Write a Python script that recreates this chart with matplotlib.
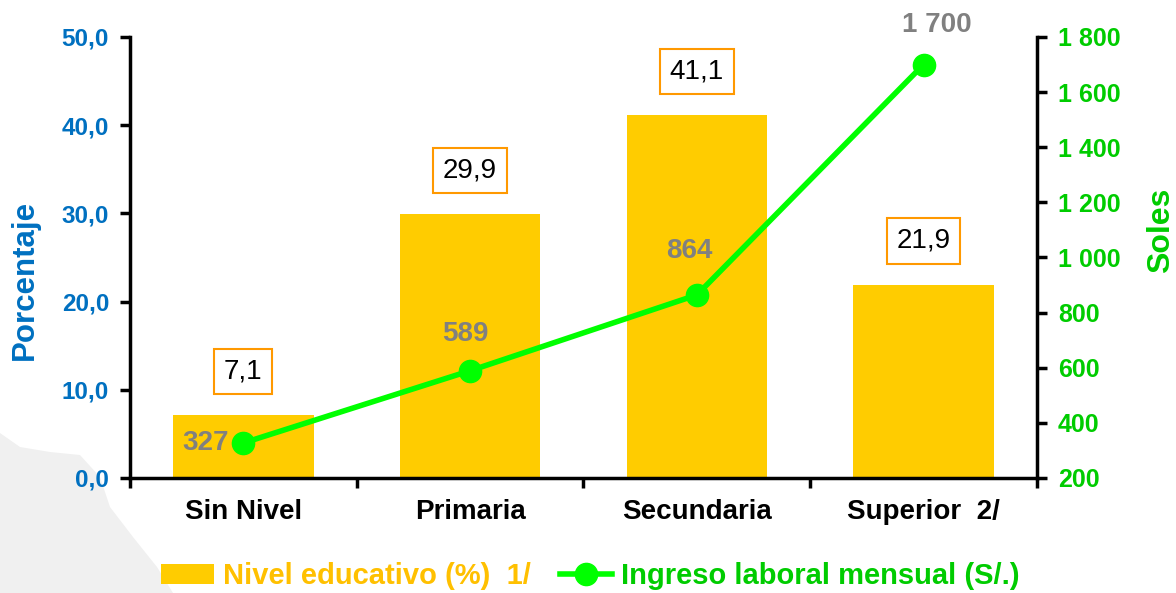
import matplotlib
matplotlib.use("Agg")
import matplotlib.pyplot as plt
from matplotlib.patches import Polygon
from matplotlib.ticker import FuncFormatter, MultipleLocator

# data
categories = ["Sin Nivel", "Primaria", "Secundaria", "Superior  2/"]
nivel_pct = [7.1, 29.9, 41.1, 21.9]
ingreso = [327, 589, 864, 1700]

bar_color = "#FFCC00"
line_color = "#00FF00"
blue = "#0070C0"
green = "#00CC00"
gray = "#808080"

plt.rcParams["font.family"] = ["Liberation Sans", "DejaVu Sans"]

fig = plt.figure(figsize=(11.76, 5.93), dpi=100)

# faint map silhouette behind the chart (bottom-left)
shape = [(0, 433), (20, 447), (50, 452), (80, 455), (100, 477), (110, 507),
         (133, 537), (157, 567), (173, 593), (0, 593)]
fig.patches.append(Polygon([(x / 1176, 1 - y / 593) for x, y in shape],
                           closed=True, transform=fig.transFigure,
                           facecolor="#F0F0F0", edgecolor="none", zorder=-10))

ax = fig.add_axes([0.1105, 0.194, 0.7713, 0.7437])
ax.patch.set_alpha(0)
x = list(range(len(categories)))

bars = ax.bar(x, nivel_pct, width=0.62, color=bar_color, zorder=2,
              label="Nivel educativo (%)  1/")
ax.set_xlim(-0.5, len(categories) - 0.5)
ax.set_ylim(0, 50)
ax.yaxis.set_major_locator(MultipleLocator(10))
ax.yaxis.set_major_formatter(FuncFormatter(lambda v, p: f"{v:.1f}".replace(".", ",")))

ax.set_xticks(x)
ax.set_xticklabels(categories, fontsize=20, fontweight="bold")
ax.set_xticks([i - 0.5 for i in range(len(categories) + 1)], minor=True)
ax.tick_params(axis="x", which="major", length=0, pad=15)
ax.tick_params(axis="x", which="minor", length=7, width=2.5, direction="out")
ax.tick_params(axis="y", length=7, width=2.5, labelsize=17.5, labelcolor=blue, pad=8)
for lab in ax.get_yticklabels():
    lab.set_fontweight("bold")

for sp in ["top", "right"]:
    ax.spines[sp].set_visible(False)
for sp in ["left", "bottom"]:
    ax.spines[sp].set_linewidth(2.5)

ax.set_ylabel("Porcentaje", fontsize=22.5, fontweight="bold", color=blue)
ax.yaxis.set_label_coords(-0.099, 0.449)

for xi, v in zip(x, nivel_pct):
    ax.annotate(f"{v:.1f}".replace(".", ","), (xi, v), xytext=(0, 31),
                textcoords="offset pixels", ha="center", va="bottom",
                fontsize=20, color="black",
                bbox=dict(boxstyle="square,pad=0.35", fc="white",
                          ec="#FF9900", lw=1.5))

ax2 = ax.twinx()
ax2.set_position(ax.get_position())
line, = ax2.plot(x, ingreso, color=line_color, lw=4, marker="o", ms=16,
                 zorder=3, label="Ingreso laboral mensual (S/.)")
ax2.set_ylim(200, 1800)
ax2.yaxis.set_major_locator(MultipleLocator(200))
ax2.yaxis.set_major_formatter(FuncFormatter(lambda v, p: f"{int(v):,}".replace(",", " ")))
ax2.tick_params(axis="y", length=7, width=2.5, labelsize=18, labelcolor=green, pad=8)
for lab in ax2.get_yticklabels():
    lab.set_fontweight("bold")
for sp in ["top", "left", "bottom"]:
    ax2.spines[sp].set_visible(False)
ax2.spines["right"].set_linewidth(2.5)
ax2.set_ylabel("Soles", fontsize=23, fontweight="bold", color=green)
ax2.yaxis.set_label_coords(1.12, 0.562)

# value labels of the line
label_place = [((-14, 0), "right", "center"), ((-5, 37), "center", "center"),
               ((-8, 44), "center", "center"), ((13, 40), "center", "center")]
for xi, v, (off, ha, va) in zip(x, ingreso, label_place):
    ax2.annotate(f"{v:,}".replace(",", " "), (xi, v), xytext=off,
                 textcoords="offset pixels", ha=ha, va=va,
                 fontsize=20, fontweight="bold", color=gray)

leg = fig.legend(handles=[bars, line], loc="center", bbox_to_anchor=(0.502, 0.028),
                 ncol=2, frameon=False, handlelength=1.8, handletextpad=0.3,
                 columnspacing=1.0,
                 prop=dict(family=["Liberation Sans Narrow", "Liberation Sans"],
                           weight="bold", size=21))
for t, c in zip(leg.get_texts(), ["#FFC000", green]):
    t.set_color(c)

fig.savefig("out.png", dpi=100)
